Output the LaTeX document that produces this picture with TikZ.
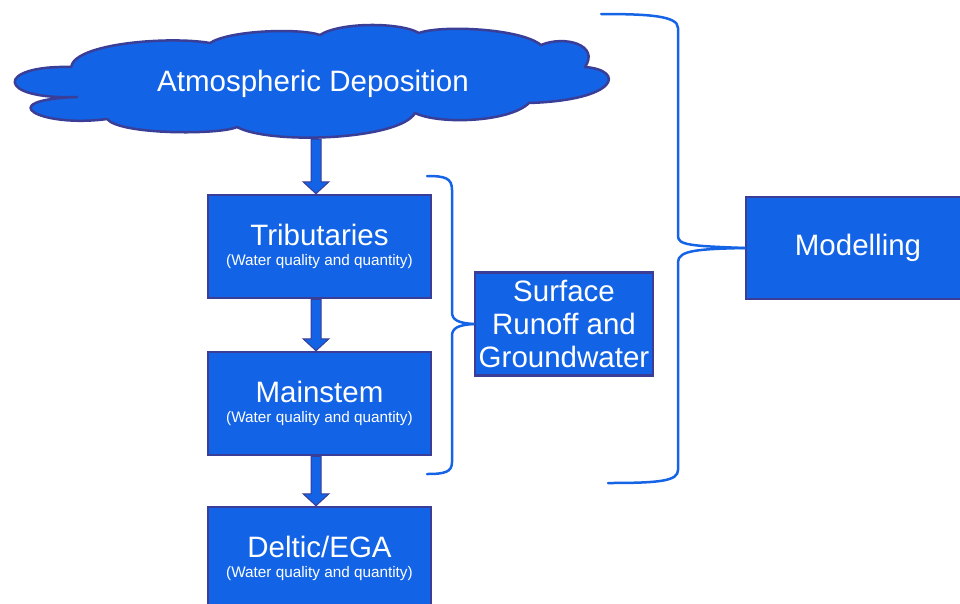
\documentclass[tikz,border=0pt]{standalone}
\usepackage{fontspec}
\setmainfont{Liberation Sans}
\usetikzlibrary{calc}
\definecolor{boxblue}{RGB}{18,99,230}
\definecolor{boxedge}{RGB}{58,62,150}
\definecolor{bracecol}{RGB}{22,100,230}
\newcommand\subtxt{\fontsize{15.3}{18}\selectfont}
\begin{document}
\begin{tikzpicture}[x=1pt,y=-1pt,
  box/.style={draw=boxedge, fill=boxblue, line width=2.5pt, text=white, align=center,
    inner sep=0pt, font=\fontsize{29.5}{20.5}\selectfont},
  wtxt/.style={text=white, inner sep=0pt, font=\fontsize{29.5}{33}\selectfont},
  blockarrow/.style={draw=boxedge, fill=boxblue, line width=1pt, line join=miter,
    to path={let \p1=(\tikztostart), \p2=(\tikztotarget) in
      (\x1-5pt,\y1) -- (\x1-5pt,\y2+12pt) -- (\x1-13pt,\y2+12pt) -- (\x1,\y2)
      -- (\x1+13pt,\y2+12pt) -- (\x1+5pt,\y2+12pt) -- (\x1+5pt,\y1) -- cycle}},
  curlyline/.style={draw=bracecol, line width=2.5pt, line cap=round, line join=round}]
\useasboundingbox (0,0) rectangle (960,603);

% cloud
\path[draw=boxedge, fill=boxblue, line width=2.5pt, line join=round]
  (71,67) .. controls (75,43) and (170,36) .. (210,43)
  .. controls (230,30) and (300,28) .. (320,35)
  .. controls (340,22) and (400,22) .. (419,33)
  .. controls (440,25) and (520,28) .. (541,45)
  .. controls (565,35) and (600,45) .. (585,67)
  .. controls (625,70) and (620,100) .. (529,103)
  .. controls (510,122) and (440,125) .. (415,113)
  .. controls (400,140) and (270,145) .. (237,127)
  .. controls (220,135) and (120,135) .. (107,119)
  .. controls (40,128) and (-10,100) .. (77,97)
  .. controls (-5,100) and (-5,65) .. (71,67) -- cycle;
\node[wtxt] (cloud) at (313,84) {Atmospheric Deposition};
\coordinate (cloudbot) at (316,139);

% boxes
\node[box, minimum width=223pt, minimum height=103pt] (trib) at (319.5,246.5)
  {Tributaries\\{\subtxt (Water quality and quantity)}};
\node[box, minimum width=223pt, minimum height=103pt] (main) at (319.5,403.5)
  {Mainstem\\{\subtxt (Water quality and quantity)}};
\node[box, minimum width=223pt, minimum height=103pt] (delt) at (319.5,558.5)
  {Deltic/EGA\\{\subtxt (Water quality and quantity)}};
\node[box, font=\fontsize{29.5}{33}\selectfont, minimum width=178pt, minimum height=103pt] (surf) at (564,324)
  {Surface\\Runoff and\\Groundwater};
\node[box, minimum width=224pt, minimum height=102pt] (modl) at (858,248) {Modelling};

% block arrows
\draw[blockarrow] (cloudbot) to ([xshift=-3.5pt]trib.north);
\draw[blockarrow] ([xshift=-3.5pt]trib.south) to ([xshift=-3.5pt]main.north);
\draw[blockarrow] ([xshift=-3.5pt]main.south) to ([xshift=-3.5pt]delt.north);

% small brace
\coordinate (sb1) at (427,176);
\coordinate (sb2) at (427,474);
\draw[curlyline] (sb1) .. controls (445,176) and (452,178) .. (452,190) -- (452,312)
  .. controls (452,320) and (458,323) .. (surf.west);
\draw[curlyline] (surf.west) .. controls (458,325) and (452,328) .. (452,336) -- (452,462)
  .. controls (452,472) and (445,474) .. (sb2);

% big brace
\coordinate (bb1) at (601,14);
\coordinate (bb2) at (608,483);
\draw[curlyline] (bb1) .. controls (650,14) and (678,16) .. (678,28) -- (678,236)
  .. controls (678,245) and (690,246) .. (modl.west);
\draw[curlyline] (modl.west) .. controls (700,249) and (678,250) .. (678,262) -- (678,470)
  .. controls (678,481) and (660,483) .. (bb2);
\end{tikzpicture}
\end{document}
